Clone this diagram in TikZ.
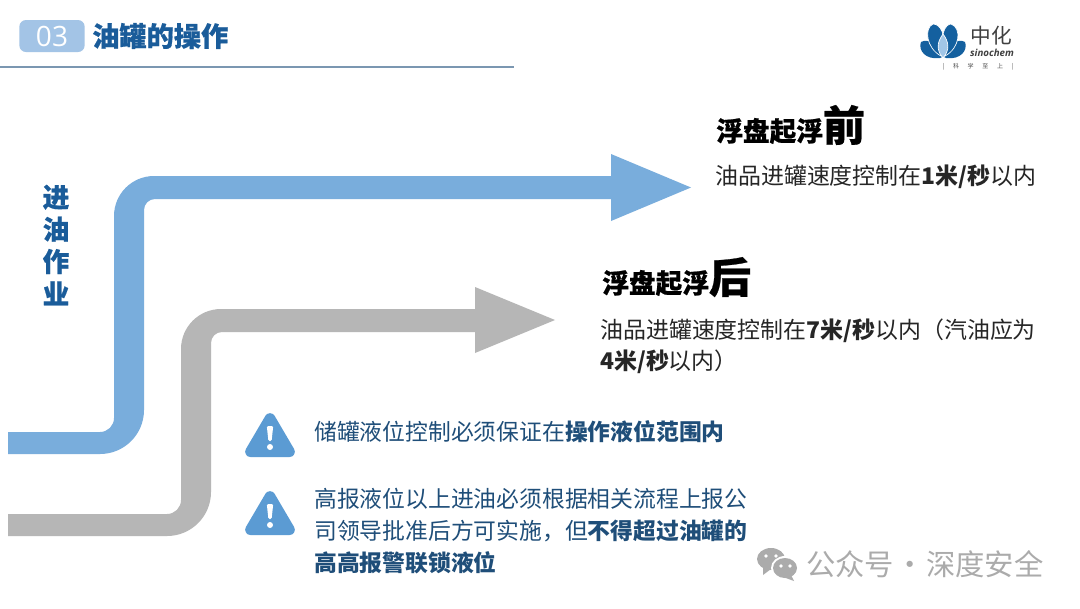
\documentclass[tikz,border=0pt]{standalone}
\usepackage{fontspec}
\setmainfont{Noto Sans CJK SC}
\newfontfamily\latinf{Open Sans}
\newfontfamily\heavy[BoldFeatures={FakeBold=0.6}]{Noto Sans CJK SC}
\begin{document}
\begin{tikzpicture}[x=0.75pt,y=-0.75pt]
\definecolor{armblue}{HTML}{79ADDC}
\definecolor{armgray}{HTML}{B6B6B6}
\definecolor{deepblue}{HTML}{1A5C9A}
\definecolor{warnblue}{HTML}{5B9BD3}
\definecolor{badge}{HTML}{A3C4E6}
\definecolor{notecol}{HTML}{1F4E79}
\definecolor{logoblue}{HTML}{14609F}
\definecolor{wmgray}{HTML}{ABABAB}
\tikzset{
 body/.style={font=\fontsize{17.2}{23.3}\selectfont,text=black!85,anchor=west,inner sep=0pt},
 head/.style={font=\fontsize{20}{22}\heavy\bfseries\selectfont,text=black,anchor=base west,inner sep=0pt},
 notes/.style={font=\fontsize{17.1}{24}\selectfont,text=notecol,anchor=west,inner sep=0pt,align=left},
 warn/.style={fill=warnblue,draw=warnblue,line width=8pt,line join=round},
 petal/.style={fill=logoblue},
}
\useasboundingbox (0,0) rectangle (1080,608);
\fill[white] (0,0) rectangle (1080,608);
% header
\node[fill=badge,rounded corners=5pt,minimum width=49pt,minimum height=24pt,inner sep=0pt] (bdg) at (52,36) {};
\node[text=white,font=\fontsize{21}{24}\selectfont\latinf] (num) at (bdg) {03};
\node[anchor=west,inner sep=0pt,text=deepblue,font=\fontsize{20.4}{24}\heavy\bfseries\selectfont] (title) at (92,36) {油罐的操作};
\draw[line width=1pt,color=gray!40!deepblue!70] (0,67) -- (514,67);
% arrows
\fill[armblue] (8,432) -- (100,432) arc (90:0:14) -- (114,216) arc (180:270:40) -- (611,176) -- (611,154) -- (691,187.5) -- (611,221) -- (611,199) -- (155,199) arc (270:180:11) -- (144,410) arc (0:90:44) -- (8,454) -- cycle;
\fill[armgray] (8,514) -- (167,514) arc (90:0:14) -- (181,349) arc (180:270:40) -- (475,309) -- (475,287) -- (555,320) -- (475,353) -- (475,332) -- (222,332) arc (270:180:11) -- (211,492) arc (0:90:44) -- (8,536) -- cycle;
\node[inner sep=0pt,text=deepblue,font=\fontsize{20}{24.2}\heavy\bfseries\selectfont,align=center] (jin) at (56,245) {进\\油\\作\\业};
% right text
\node[head] (h1) at (716,141) {浮盘起浮{\fontsize{31.5}{33}\selectfont 前}};
\node[body] (b1) at (715,177) {油品进罐速度控制在\textbf{1米/秒}以内};
\node[head] (h2) at (602,293) {浮盘起浮{\fontsize{31.5}{33}\selectfont 后}};
\node[body,align=left,text width=340pt] (b2) at (600,346.5) {油品进罐速度控制在\textbf{7米/秒}以内（汽油应为\\\textbf{4米/秒}以内）};
% warnings
\foreach \n/\cy in {w1/0,w2/78}{
 \path[warn] (270,{418.5+\cy}) -- (250.5,{451.7+\cy}) -- (289.5,{451.7+\cy}) -- cycle;
 \fill[white,rounded corners=1pt] (266.8,{426+\cy}) -- (273.2,{426+\cy}) -- (271.6,{441+\cy}) -- (268.4,{441+\cy}) -- cycle;
 \fill[white] (270,{447+\cy}) circle (3);
}
\node[notes] (n1) at (314,432) {储罐液位控制必须保证在\textbf{操作液位范围内}};
\node[notes] (n2) at (314,531) {高报液位以上进油必须根据相关流程上报公\\司领导批准后方可实施，但\textbf{不得超过油罐的}\\\textbf{高高报警联锁液位}};
% logo
\fill[petal] (940,58) .. controls (925,60) and (918,50) .. (921,42) .. controls (928,38) and (938,44) .. (942,57) -- cycle;
\fill[petal] (946,58) .. controls (961,60) and (968,50) .. (965,42) .. controls (958,38) and (948,44) .. (944,57) -- cycle;
\fill[petal,draw=white,line width=0.5pt] (941,56) .. controls (926,48) and (924,28) .. (933,24) .. controls (941,24) and (946,36) .. (943,50) -- cycle;
\fill[petal,draw=white,line width=0.5pt] (945,56) .. controls (960,48) and (962,28) .. (951,24) .. controls (945,24) and (940,36) .. (943,50) -- cycle;
\fill[armblue!70,draw=white,line width=0.5pt] (943,58) .. controls (936,50) and (937,42) .. (943,34) .. controls (949,42) and (950,50) .. (943,58) -- cycle;
\node[inner sep=0pt,text=black!75,font=\fontsize{15.5}{16}\selectfont] (zh) at (991.5,36) {中化};
\node[inner sep=0pt,text=black!75,font=\fontsize{7.3}{8}\bfseries\itshape\selectfont\latinf] (si) at (992,53) {sinochem};
\node[inner sep=0pt,text=black!70,font=\fontsize{4.5}{5}\selectfont] (sl) at (978,67) {|\hspace{6.5pt}科\hspace{6.5pt}学\hspace{6.5pt}至\hspace{6.5pt}上\hspace{6.5pt}|};
% watermark
\fill[wmgray] (771,559) ellipse (14 and 11);
\fill[wmgray] (763,567) -- (763,575) -- (771,569) -- cycle;
\fill[white] (785,568) ellipse (14 and 12);
\fill[wmgray] (785,568) ellipse (12 and 10);
\fill[wmgray] (791,575) -- (794,581) -- (783,577) -- cycle;
\foreach \p in {(766,556),(776,556),(781,566),(790,566)} \fill[white] \p circle (1.8);
\node[inner sep=0pt,anchor=west,text=wmgray,font=\fontsize{22}{24}\selectfont] (wm) at (806,564) {公众号\hspace{1pt}·\hspace{1pt}深度安全};
\end{tikzpicture}
\end{document}
